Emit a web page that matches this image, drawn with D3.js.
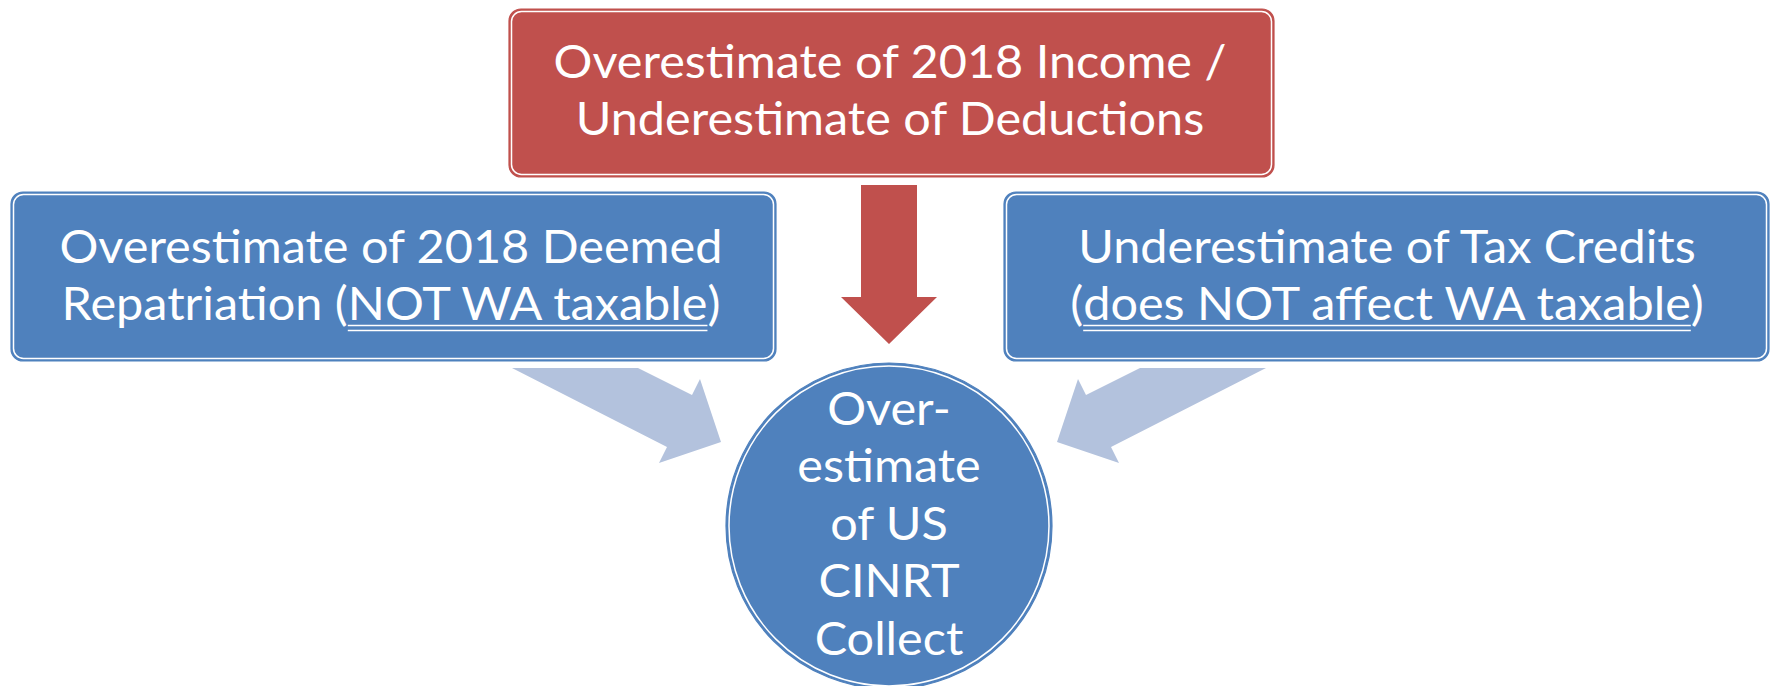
<!DOCTYPE html>
<html>
<head>
<meta charset="utf-8">
<script src="https://cdn.jsdelivr.net/npm/d3@7"></script>
<style>
  html, body { margin: 0; padding: 0; background: #fff; }
  svg text { font-family: Lato, "Open Sans", sans-serif; fill: #fff; }
</style>
</head>
<body>
<svg width="1771" height="686"></svg>
<script>

// text content of the diagram
var topLines = ["Overestimate of 2018 Income /", "Underestimate of Deductions"];
var leftLines = [
  [{t: "Overestimate of 2018 Deemed"}],
  [{t: "Repatriation ("}, {t: "NOT WA taxable", u: true}, {t: ")"}]
];
var rightLines = [
  [{t: "Underestimate of Tax Credits"}],
  [{t: "("}, {t: "does NOT affect WA taxable", u: true}, {t: ")"}]
];
var centerLines = ["Over-", "estimate", "of US", "CINRT", "Collect"];

var red = "#c0504d", blue = "#4f81bd", pale = "#b3c2dd";

var svg = d3.select("svg");
var fontSize = 47, lineH = 57.5;

// condense factor so the font runs about as narrow as the original
var probe = svg.append("text").style("font-size", fontSize + "px").text(topLines[0]);
var sx = 673 / probe.node().getComputedTextLength();
probe.remove();

function box(x, y, w, h, color) {
  var g = svg.append("g");
  g.append("rect").attr("x", x).attr("y", y).attr("width", w).attr("height", h)
    .attr("rx", 12).attr("fill", color).attr("stroke", color).attr("stroke-width", 1.2);
  g.append("rect").attr("x", x + 2.5).attr("y", y + 2.5).attr("width", w - 5).attr("height", h - 5)
    .attr("rx", 10).attr("fill", "none").attr("stroke", "#fff").attr("stroke-width", 1.5);
  return g;
}

function lines(cx, y0, rows) {
  var g = svg.append("g").attr("transform", "translate(" + cx + ",0) scale(" + sx + ",1)");
  rows.forEach(function(row, i) {
    if (typeof row === "string") row = [{t: row}];
    var y = y0 + i * lineH;
    var txt = g.append("text").attr("y", y).attr("text-anchor", "middle")
      .style("font-size", fontSize + "px");
    var spans = row.map(function(p) { return txt.append("tspan").text(p.t); });
    var total = txt.node().getComputedTextLength();
    var x = -total / 2;
    row.forEach(function(p, j) {
      var w = spans[j].node().getComputedTextLength();
      if (p.u) {
        [5, 10].forEach(function(dy) {
          g.append("line").attr("x1", x).attr("x2", x + w)
            .attr("y1", y + dy).attr("y2", y + dy)
            .attr("stroke", "#fff").attr("stroke-width", 1.4 / 1)
            .attr("vector-effect", "non-scaling-stroke");
        });
      }
      x += w;
    });
  });
}

// light blue arrows into the circle, drawn for the left side and mirrored
var cx = 889;
var arrowShape = [[-377, 368], [-251, 368], [-197, 395], [-189, 379], [-168, 442], [-230, 463], [-222, 447]];
[1, -1].forEach(function(s) {
  svg.append("path")
    .attr("d", d3.line()(arrowShape.map(function(p) { return [cx + s * p[0], p[1]]; })) + "Z")
    .attr("fill", pale);
});

// top red box and arrow down
box(509, 9, 765, 168, red);
lines(890, 78, topLines);
var arrow = [[-28, 185], [28, 185], [28, 297], [48, 297], [0, 344], [-48, 297], [-28, 297]];
svg.append("path")
  .attr("d", d3.line()(arrow.map(function(p) { return [cx + p[0], p[1]]; })) + "Z")
  .attr("fill", red);

// side boxes
box(11, 192, 765, 169, blue);
lines(391, 263, leftLines);
box(1004, 192, 765, 169, blue);
lines(1387, 263, rightLines);

// central circle
svg.append("circle").attr("cx", cx).attr("cy", 526).attr("r", 163)
  .attr("fill", blue).attr("stroke", blue).attr("stroke-width", 1.2);
svg.append("circle").attr("cx", cx).attr("cy", 526).attr("r", 160)
  .attr("fill", "none").attr("stroke", "#fff").attr("stroke-width", 1.5);
lines(cx, 425, centerLines);

</script>
</body>
</html>
